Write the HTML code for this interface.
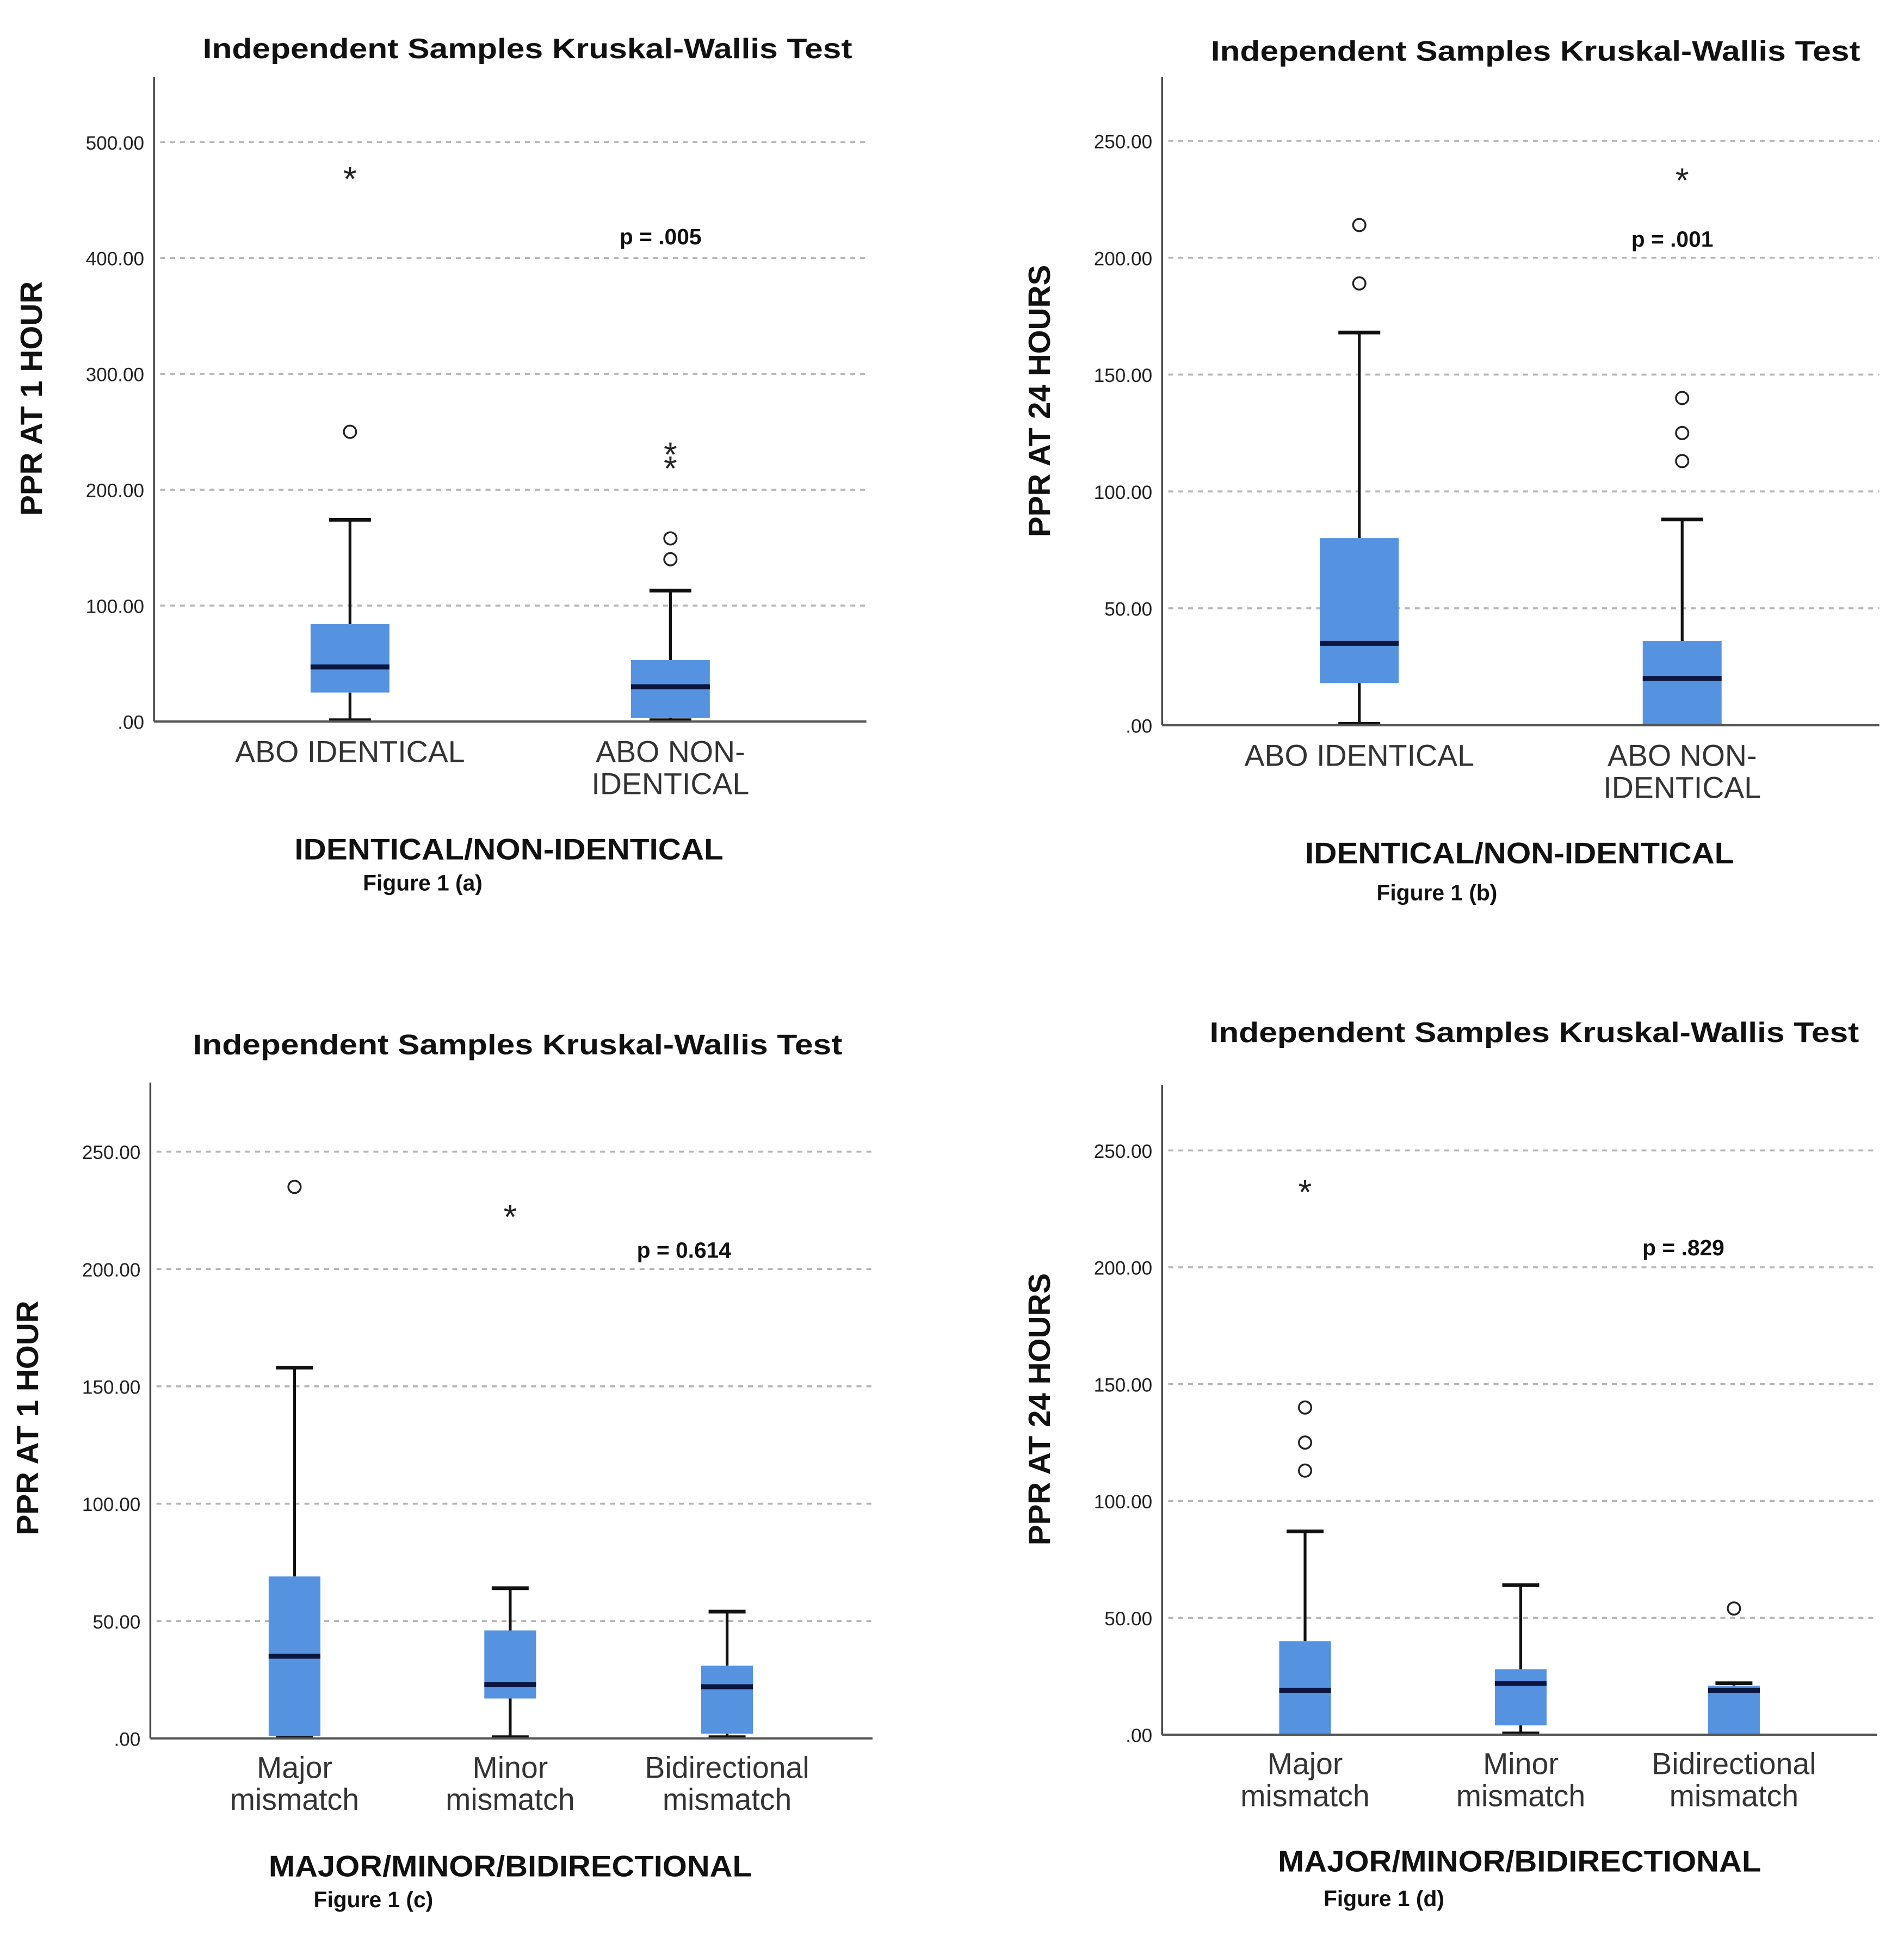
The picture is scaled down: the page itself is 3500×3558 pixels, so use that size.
<!DOCTYPE html>
<html><head><meta charset="utf-8"><style>
html,body{margin:0;padding:0;background:#fff;}
svg{display:block;}
text{font-family:"Liberation Sans",sans-serif;}
</style></head><body>
<svg id="fig" width="3500" height="3558" viewBox="0 0 1545 1570" xmlns="http://www.w3.org/2000/svg">
<rect width="1545" height="1570" fill="#fff"/>
</svg>
<script>
// Panel (a)
const catsA = [["ABO IDENTICAL"], ["ABO NON-", "IDENTICAL"]];
const q1A = [25, 3], medA = [47, 30], q3A = [84, 53], loA = [0, 0], hiA = [174, 113];
const circA = [[250], [140, 158]], starA = [[472], [222, 234]];
const ticksA = [0, 100, 200, 300, 400, 500];
const tickLblA = [".00", "100.00", "200.00", "300.00", "400.00", "500.00"];
// Panel (b)
const catsB = [["ABO IDENTICAL"], ["ABO NON-", "IDENTICAL"]];
const q1B = [18, 0], medB = [35, 20], q3B = [80, 36], loB = [0, 0], hiB = [168, 88];
const circB = [[189, 214], [113, 125, 140]], starB = [[], [235]];
const ticksB = [0, 50, 100, 150, 200, 250];
const tickLblB = [".00", "50.00", "100.00", "150.00", "200.00", "250.00"];
// Panel (c)
const catsC = [["Major", "mismatch"], ["Minor", "mismatch"], ["Bidirectional", "mismatch"]];
const q1C = [1, 17, 2], medC = [35, 23, 22], q3C = [69, 46, 31], loC = [0, 0, 0], hiC = [158, 64, 54];
const circC = [[235], [], []], starC = [[], [224], []];
// Panel (d)
const catsD = [["Major", "mismatch"], ["Minor", "mismatch"], ["Bidirectional", "mismatch"]];
const q1D = [0, 4, 0], medD = [19, 22, 19], q3D = [40, 28, 21], loD = [0, 0, 0], hiD = [87, 64, 22];
const circD = [[113, 125, 140], [], [54]], starD = [[234], [], []];

const NS = "http://www.w3.org/2000/svg";
const svg = document.getElementById("fig");
function mk(tag, attrs, parent, txt) {
  const e = document.createElementNS(NS, tag);
  for (const k in attrs) e.setAttribute(k, attrs[k]);
  if (txt !== undefined) e.textContent = txt;
  (parent || svg).appendChild(e);
  return e;
}

function panel(cfg) {
  const g = mk("g", {});
  
  
  const y = v => cfg.y0 - (v / cfg.maxTick) * (cfg.y0 - cfg.yTop);
  const t = mk("text", {x: cfg.titleX, y: cfg.titleY, "text-anchor": "middle", "font-size": 23, "font-weight": "bold", fill: "#111", textLength: 527, lengthAdjust: "spacingAndGlyphs"}, g, "Independent Samples Kruskal-Wallis Test");
  
  
  cfg.ticks.forEach((v, i) => {
    if (v > 0) {
      const l = mk("line", {x1: cfg.x0 + 5, x2: cfg.x1, y1: y(v), y2: y(v), stroke: "#b5b5b5", "stroke-width": 1.6, "stroke-dasharray": "4 4"}, g);
      
      
    }
    const tl = mk("text", {x: cfg.x0 - 8, y: y(v) + 6, "text-anchor": "end", "font-size": 15.5, fill: "#222"}, g, cfg.tickLbl[i]);
    
    
  });
  const ya = mk("line", {x1: cfg.x0, x2: cfg.x0, y1: cfg.axTop, y2: cfg.y0, stroke: "#444", "stroke-width": 1.5}, g);
  
  
  cfg.cats.forEach((c, i) => {
    const cx = cfg.cx[i], w = cfg.bw, cw = cfg.cap;
    const bg = mk("g", {}, g);
    
    
    mk("line", {x1: cx, x2: cx, y1: y(cfg.hi[i]), y2: y(cfg.q3[i]), stroke: "#111", "stroke-width": 2.3}, bg);
    mk("line", {x1: cx, x2: cx, y1: y(cfg.lo[i]), y2: y(cfg.q1[i]), stroke: "#111", "stroke-width": 2.3}, bg);
    mk("line", {x1: cx - cw / 2, x2: cx + cw / 2, y1: y(cfg.hi[i]), y2: y(cfg.hi[i]), stroke: "#111", "stroke-width": 3}, bg);
    mk("line", {x1: cx - cw / 2, x2: cx + cw / 2, y1: y(cfg.lo[i]) - 1, y2: y(cfg.lo[i]) - 1, stroke: "#111", "stroke-width": 3}, bg);
    mk("rect", {x: cx - w / 2, y: y(cfg.q3[i]), width: w, height: Math.max(1, y(cfg.q1[i]) - y(cfg.q3[i])), fill: "#5593e0"}, bg);
    mk("line", {x1: cx - w / 2, x2: cx + w / 2, y1: y(cfg.med[i]), y2: y(cfg.med[i]), stroke: "#0a1640", "stroke-width": 4}, bg);
    cfg.circ[i].forEach(v => {
      const o = mk("circle", {cx: cx, cy: y(v), r: 5, fill: "none", stroke: "#222", "stroke-width": 1.5}, g);
      
      
    });
    cfg.star[i].forEach(v => {
      const s = mk("text", {x: cx, y: y(v) + 13, "text-anchor": "middle", "font-size": 28, fill: "#222"}, g, "*");
      
      
    });
    c.forEach((line, j) => {
      const ct = mk("text", {x: cx, y: cfg.catY + j * 26, "text-anchor": "middle", "font-size": 24.5, fill: "#333"}, g, line);
      
      
    });
  });
  const xa = mk("line", {x1: cfg.x0, x2: cfg.x1, y1: cfg.y0, y2: cfg.y0, stroke: "#555", "stroke-width": 1.8}, g);
  
  
  const p = mk("text", {x: cfg.pX, y: cfg.pY, "text-anchor": "middle", "font-size": 18, "font-weight": "bold", fill: "#111"}, g, cfg.pTxt);
  
  
  const yt = mk("text", {x: 0, y: 0, "text-anchor": "middle", "font-size": 25, "font-weight": "bold", fill: "#111", transform: `translate(${cfg.ytX},${cfg.ytY}) rotate(-90)`}, g, cfg.yTitle);
  
  
  const xt = mk("text", {x: cfg.xtX, y: cfg.xtY, "text-anchor": "middle", "font-size": 24, "font-weight": "bold", fill: "#111", textLength: cfg.xtLen, lengthAdjust: "spacingAndGlyphs"}, g, cfg.xTitle);
  
  
  const fc = mk("text", {x: cfg.fX, y: cfg.fY, "text-anchor": "middle", "font-size": 18, "font-weight": "bold", fill: "#111"}, g, cfg.fig);
  
  
}

panel({name: "panel-a", x0: 125, x1: 703, y0: 585, yTop: 115, axTop: 62, maxTick: 500, ticks: ticksA, tickLbl: tickLblA,
  cats: catsA, cx: [284, 544], bw: 64, cap: 34, q1: q1A, med: medA, q3: q3A, lo: loA, hi: hiA, circ: circA, star: starA,
  catY: 618, titleX: 428, titleY: 47, pX: 536, pY: 198, pTxt: "p = .005", ytX: 34, ytY: 323, yTitle: "PPR AT 1 HOUR",
  xtX: 413, xtY: 697, xtLen: 348, xTitle: "IDENTICAL/NON-IDENTICAL", fX: 343, fY: 722, fig: "Figure 1 (a)"});
panel({name: "panel-b", x0: 943, x1: 1525, y0: 588, yTop: 114, axTop: 62, maxTick: 250, ticks: ticksB, tickLbl: tickLblB,
  cats: catsB, cx: [1103, 1365], bw: 64, cap: 34, q1: q1B, med: medB, q3: q3B, lo: loB, hi: hiB, circ: circB, star: starB,
  catY: 621, titleX: 1246, titleY: 49, pX: 1357, pY: 200, pTxt: "p = .001", ytX: 852, ytY: 325, yTitle: "PPR AT 24 HOURS",
  xtX: 1233, xtY: 700, xtLen: 348, xTitle: "IDENTICAL/NON-IDENTICAL", fX: 1166, fY: 730, fig: "Figure 1 (b)"});
panel({name: "panel-c", x0: 122, x1: 708, y0: 1410, yTop: 934, axTop: 878, maxTick: 250, ticks: ticksB, tickLbl: tickLblB,
  cats: catsC, cx: [239, 414, 590], bw: 42, cap: 30, q1: q1C, med: medC, q3: q3C, lo: loC, hi: hiC, circ: circC, star: starC,
  catY: 1442, titleX: 420, titleY: 855, pX: 555, pY: 1020, pTxt: "p = 0.614", ytX: 31, ytY: 1150, yTitle: "PPR AT 1 HOUR",
  xtX: 414, xtY: 1522, xtLen: 392, xTitle: "MAJOR/MINOR/BIDIRECTIONAL", fX: 303, fY: 1547, fig: "Figure 1 (c)"});
panel({name: "panel-d", x0: 943, x1: 1523, y0: 1407, yTop: 933, axTop: 880, maxTick: 250, ticks: ticksB, tickLbl: tickLblB,
  cats: catsD, cx: [1059, 1234, 1407], bw: 42, cap: 30, q1: q1D, med: medD, q3: q3D, lo: loD, hi: hiD, circ: circD, star: starD,
  catY: 1439, titleX: 1245, titleY: 845, pX: 1366, pY: 1018, pTxt: "p = .829", ytX: 852, ytY: 1143, yTitle: "PPR AT 24 HOURS",
  xtX: 1233, xtY: 1518, xtLen: 392, xTitle: "MAJOR/MINOR/BIDIRECTIONAL", fX: 1123, fY: 1546, fig: "Figure 1 (d)"});
</script>
</body></html>
